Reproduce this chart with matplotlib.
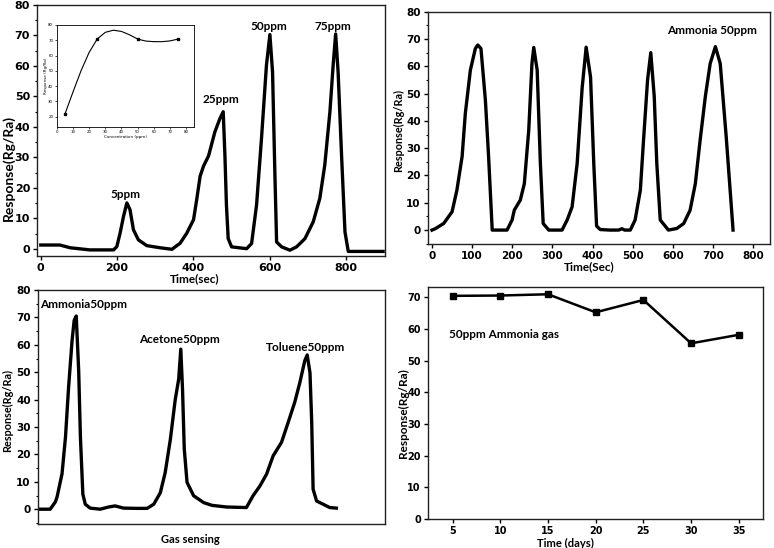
import matplotlib
matplotlib.use("Agg")
import matplotlib.pyplot as plt
from matplotlib.ticker import MultipleLocator

# ---------------- data ----------------
# Panel (a): dynamic response at different NH3 concentrations
t1 = [0, 50, 77, 129, 191, 199.5, 208, 217, 225.7, 234, 243, 256, 278, 313, 344,
      365.6, 383, 400.7, 409, 418, 427, 440, 456.7, 470, 478.5, 483, 487, 491.6,
      500.5, 540, 553, 566, 579, 592, 601, 608, 614, 618.6, 631.8, 653.5, 671,
      693, 714.7, 732, 745, 758.5, 767, 773.5, 780, 789, 798, 806.6, 898]
r1 = [1.3, 1.3, 0.4, -0.3, -0.3, 0.8, 5.2, 10.7, 15.1, 12.9, 6.3, 3.0, 1.1, 0.4,
      -0.1, 1.9, 5.2, 9.6, 16.2, 23.9, 27.2, 30.5, 38.4, 42.8, 45.0, 30.8, 14.4,
      3.4, 0.7, 0.1, 1.8, 14.4, 36.3, 60.3, 70.3, 58, 25.2, 2.3, 0.7, -0.4, 0.7,
      3.4, 8.9, 16.6, 27.5, 45, 60.3, 70.5, 58, 30.8, 5.6, -0.8, -0.8]
peak_labels1 = ["5ppm", "25ppm", "50ppm", "75ppm"]
peak_x1 = [222, 472, 597, 766]
peak_y1 = [17.8, 49, 73.1, 73.1]

# Inset: response vs concentration
conc_pts = [5, 25, 50, 75]
resp_pts = [21.5, 70.8, 70.8, 70.8]
conc_curve = [5, 10, 15, 20, 25, 30, 35, 40, 45, 50, 55, 60, 65, 70, 75]
resp_curve = [21.5, 36, 50, 62, 70.8, 75.2, 76.6, 75.8, 73.6, 70.8, 69.5, 69.1, 69.1, 69.6, 70.8]

# Panel (b): repeatability, Ammonia 50 ppm
t2 = [0, 8, 29, 50, 62, 75, 83, 95.6, 108, 114, 122, 133, 141, 150, 187, 199.5,
      205, 220, 230, 241, 249, 253.5, 262, 270, 277, 291, 324, 336.7, 349, 361.6,
      374, 384, 395, 403, 410, 419, 444, 465, 473, 480, 494, 506, 519, 527, 537,
      545, 553.6, 560, 568.6, 589, 610, 627, 643, 656, 668, 681, 693, 706, 718,
      733, 750]
r2 = [0, 0.5, 2.4, 6.7, 14.6, 26.9, 42.7, 58.6, 66.5, 67.8, 66.5, 47.6, 26.9, 0,
      0, 3.7, 7.3, 11, 17, 36.6, 61, 66.9, 58.6, 24.4, 2.4, 0, 0, 3.7, 8.5, 24.4,
      52, 67, 56, 24.4, 1.5, 0.2, 0, 0, 0.5, 0, 0, 3.7, 14.6, 33, 55, 65, 49,
      24.4, 3.7, 0, 0.6, 2.4, 7.3, 17, 33, 49, 61, 67.2, 61, 34, 0]

# Panel (c): selectivity
x3 = [0, 3.6, 5.1, 5.6, 7, 8, 8.9, 9.9, 10.5, 11.1, 11.8, 12.3, 13, 13.7, 15.1,
      18, 20.4, 22.3, 24.7, 28.6, 31.5, 33.4, 35.3, 36.7, 38.2, 39.6, 40.6, 41.2,
      41.7, 42.2, 43, 44.9, 47.8, 50.2, 54.4, 60.1, 62, 64, 65.9, 67.8, 70.2,
      72.1, 74, 75.5, 76.9, 77.6, 78.4, 78.9, 79.3, 80.3, 82.2, 84.1, 86]
r3 = [0, 0, 2.7, 4.6, 12.9, 26.3, 44.6, 61.6, 68.9, 70.5, 50.5, 26.3, 5.5, 1.8,
      0.4, 0, 0.8, 1.2, 0.4, 0.3, 0.3, 1.8, 6, 13.3, 25.5, 40, 47.5, 58.4, 43.8,
      22, 9.8, 4.9, 2.4, 1.4, 0.8, 0.6, 4.9, 8.5, 12.8, 19.5, 24.4, 31.6, 39,
      46.3, 54.2, 56.3, 49.8, 31.6, 7.3, 3, 1.8, 0.6, 0.4]
gas_labels = ["Ammonia50ppm", "Acetone50ppm", "Toluene50ppm"]
gas_x = [13.1, 40.7, 77.2]
gas_y = [74.6, 61.8, 59.1]

# Panel (d): stability
days = [5, 10, 15, 20, 25, 30, 35]
resp_days = [70.5, 70.6, 71.0, 65.3, 69.2, 55.5, 58.2]

# ---------------- style ----------------
LBL = dict(family=["Lato", "DejaVu Sans"], fontweight="bold")
TCK = "DejaVu Sans"
LW = 2.4
ANN = 8.5

def px(l, t, r, b, W=774, H=548):
    return [l / W, 1 - b / H, (r - l) / W, (b - t) / H]

def style_ticks(ax, size=7.5):
    ax.tick_params(which="major", direction="out", length=3, width=1,
                   labelsize=size, pad=2)
    ax.tick_params(which="minor", direction="out", length=1.8, width=0.8)
    for lab in ax.get_xticklabels() + ax.get_yticklabels():
        lab.set_fontfamily(TCK)
        lab.set_fontweight("bold")
    for s in ax.spines.values():
        s.set_linewidth(1.0)
        s.set_color("#222222")

def place_labels(ax, xc, yc):
    # centre both axis labels at the given axes-fraction positions
    ax.xaxis.label.set_va("center")
    ax.yaxis.label.set_va("center")
    ax.xaxis.set_label_coords(*xc)
    ax.yaxis.set_label_coords(*yc)

fig = plt.figure(figsize=(7.74, 5.48), dpi=100)

# ---- panel (a) ----
ax1 = fig.add_axes(px(37, 5, 385, 256))
ax1.plot(t1, r1, color="black", lw=LW, solid_joinstyle="round")
ax1.set_xlim(-10, 903)
ax1.set_ylim(-2.3, 80)
ax1.xaxis.set_major_locator(MultipleLocator(200))
ax1.yaxis.set_major_locator(MultipleLocator(10))
ax1.yaxis.set_minor_locator(MultipleLocator(5))
style_ticks(ax1, 8)
for lab, xx, yy in zip(peak_labels1, peak_x1, peak_y1):
    ax1.text(xx, yy, lab, ha="center", va="center", fontsize=ANN, **LBL)
ax1.set_xlabel("Time(sec)", fontsize=8.5, **LBL)
ax1.set_ylabel("Response(Rg/Ra)", fontsize=10, **LBL)
place_labels(ax1, (0.454, -0.092), (-0.083, 0.35))

# inset
axi = fig.add_axes(px(56.7, 25, 194.3, 126.7))
axi.plot(conc_curve, resp_curve, color="black", lw=0.8)
axi.plot(conc_pts, resp_pts, "s", color="black", ms=1.6)
axi.set_xlim(0, 85)
axi.set_ylim(13.5, 80)
axi.xaxis.set_major_locator(MultipleLocator(10))
axi.yaxis.set_major_locator(MultipleLocator(10))
axi.tick_params(direction="out", length=1.5, width=0.5, labelsize=2.8, pad=1)
for s in axi.spines.values():
    s.set_linewidth(0.6)
axi.set_xlabel("Concentration (ppm)", fontsize=3, labelpad=0.5)
axi.set_ylabel("Response (Rg/Ra)", fontsize=3, labelpad=0.5)

# ---- panel (b) ----
ax2 = fig.add_axes(px(427.7, 11.7, 770, 244))
ax2.plot(t2, r2, color="black", lw=LW, solid_joinstyle="round")
ax2.set_xlim(-10.7, 842)
ax2.set_ylim(-5.1, 80)
ax2.xaxis.set_major_locator(MultipleLocator(100))
ax2.yaxis.set_major_locator(MultipleLocator(10))
ax2.yaxis.set_minor_locator(MultipleLocator(5))
style_ticks(ax2, 7.5)
ax2.text(697.5, 73, "Ammonia 50ppm", ha="center", va="center", fontsize=ANN, **LBL)
ax2.set_xlabel("Time(Sec)", fontsize=8.5, **LBL)
ax2.set_ylabel("Response(Rg/Ra)", fontsize=7.8, **LBL)
place_labels(ax2, (0.472, -0.098), (-0.086, 0.49))

# ---- panel (c) ----
ax3 = fig.add_axes(px(37.7, 290, 385, 524))
ax3.plot(x3, r3, color="black", lw=LW, solid_joinstyle="round")
ax3.set_xlim(0, 100)
ax3.set_ylim(-5.4, 80)
ax3.set_xticks([])
ax3.yaxis.set_major_locator(MultipleLocator(10))
ax3.yaxis.set_minor_locator(MultipleLocator(5))
style_ticks(ax3, 7.5)
for lab, xx, yy in zip(gas_labels, gas_x, gas_y):
    ax3.text(xx, yy, lab, ha="center", va="center", fontsize=ANN, **LBL)
ax3.set_xlabel("Gas sensing", fontsize=8, **LBL)
ax3.set_ylabel("Response(Rg/Ra)", fontsize=7.8, **LBL)
place_labels(ax3, (0.4385, -0.065), (-0.0875, 0.487))

# ---- panel (d) ----
ax4 = fig.add_axes(px(427.7, 287.3, 762.7, 519))
ax4.plot(days, resp_days, "-s", color="black", lw=1.8, ms=4.5)
ax4.set_xlim(2.4, 37.5)
ax4.set_ylim(0, 73.2)
ax4.xaxis.set_major_locator(MultipleLocator(5))
ax4.yaxis.set_major_locator(MultipleLocator(10))
style_ticks(ax4, 7)
ax4.text(4.58, 58.4, "50ppm Ammonia gas", ha="left", va="center", fontsize=ANN, **LBL)
ax4.set_xlabel("Time (days)", fontsize=8, **LBL)
ax4.set_ylabel("Response(Rg/Ra)", fontsize=8.5, **LBL)
place_labels(ax4, (0.41, -0.105), (-0.073, 0.457))

fig.savefig("out.png", dpi=100)
